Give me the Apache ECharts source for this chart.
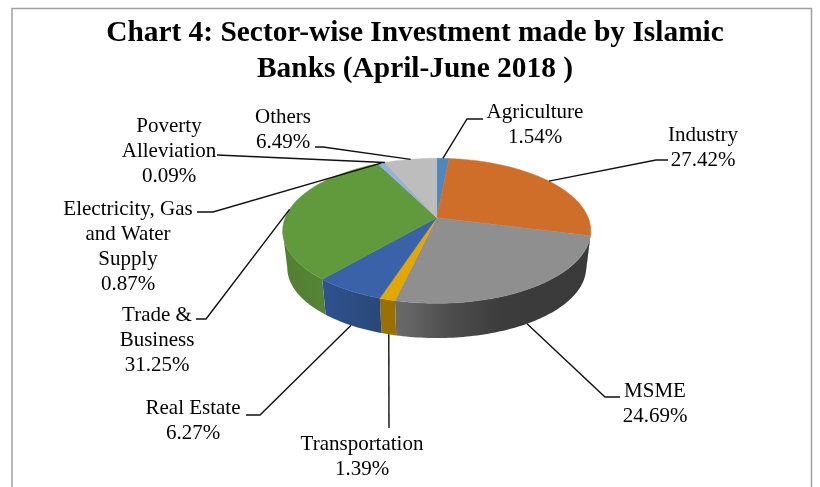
<!DOCTYPE html>
<html>
<head>
<meta charset="utf-8">
<style>
  html, body { margin: 0; padding: 0; background: #fff; }
  #chart { width: 820px; height: 487px; }
</style>
<script src="https://cdn.jsdelivr.net/npm/echarts@6/dist/echarts.min.js"></script>
</head>
<body>
<div id="chart"></div>
<script>
const categories = ['Agriculture', 'Industry', 'MSME', 'Transportation', 'Real Estate', 'Trade & Business',
  'Electricity, Gas and Water Supply', 'Poverty Alleviation', 'Others']
const shares = [1.54, 27.42, 24.69, 1.39, 6.27, 31.25, 0.87, 0.09, 6.49]

// label text is wrapped by hand like the original
const labelLines = [
  ['Agriculture'], ['Industry'], ['MSME'], ['Transportation'], ['Real Estate'], ['Trade &', 'Business'],
  ['Electricity, Gas', 'and Water', 'Supply'], ['Poverty', 'Alleviation'], ['Others'],
]

const topColors = ['#4f88bd', '#cf6e29', '#8f8f8f', '#e2a800', '#3a62a9', '#619a3d', '#93b3dd', '#c9a8a0', '#bdbdbd']
const wallColors = [
  [[0, '#3a6488'], [1, '#3a6488']],
  [[0, '#8f4c1c'], [1, '#8f4c1c']],
  [[0, '#6c6c6c'], [0.3, '#4c4c4c'], [0.55, '#3c3c3c'], [1, '#3a3a3a']],
  [[0, '#9a7000'], [1, '#9a7000']],
  [[0, '#2f5290'], [1, '#2a4778']],
  [[0, '#527f30'], [1, '#568436']],
  [[0, '#6f89a8'], [1, '#6f89a8']],
  [[0, '#998078'], [1, '#998078']],
  [[0, '#8c8c8c'], [1, '#8c8c8c']],
]

// pie geometry: perspective view of a circle, apex off the ellipse centre
const apexX = 436.7, apexY = 217.7
const radiusX = 151.5, radiusY = 70.13, tilt = -0.1807
const floorY = 255, floorScale = 0.97

// label centre x, first line top y, then the leader's knots from label to slice
const labelPos = [
  [535, 100], [703, 123], [655, 379], [362, 432], [193, 396], [157, 303], [128, 197], [169, 114], [283, 105],
]
const leaderKnots = [
  [[483, 119], [467, 119]],
  [[668, 160], [656, 160]],
  [[620, 397], [605, 397]],
  [[389, 428]],
  [[246, 415], [260, 415]],
  [[196, 319], [206, 319]],
  [[197, 212], [213, 212]],
  [[217, 155]],
  [[315, 147], [323, 147]],
]

const total = shares.reduce((a, b) => a + b, 0)
const starts = []
shares.reduce((sum, v, i) => { starts[i] = sum; return sum + v }, 0)

function rim(t, floor) {
  const u = Math.sin(t), v = -Math.cos(t)
  const d = 1 + tilt * v
  const x = radiusX * u / d, y = radiusY * v / d
  return floor ? [apexX + x * floorScale, floorY + y * floorScale] : [apexX + x, apexY + y]
}

function sliceAngles(i) {
  const a = starts[i] / total * Math.PI * 2
  return [a, a + shares[i] / total * Math.PI * 2]
}

function arc(a, b, floor) {
  const n = Math.max(2, Math.ceil((b - a) / 0.02))
  const pts = []
  for (let k = 0; k <= n; k++) pts.push(rim(a + (b - a) * k / n, floor))
  return pts
}

// the rim only shows a wall between these two angles
const wallFrom = 100.4 * Math.PI / 180, wallTo = 259.6 * Math.PI / 180

function renderWall(params, api) {
  const i = api.value(0)
  const [a0, b0] = sliceAngles(i)
  const a = Math.max(a0, wallFrom), b = Math.min(b0, wallTo)
  if (b <= a) return null
  const points = arc(a, b, false).concat(arc(a, b, true).reverse())
  return {
    type: 'polygon',
    shape: { points },
    style: {
      fill: new echarts.graphic.LinearGradient(0, 0, 1, 0,
        wallColors[i].map(([offset, color]) => ({ offset, color }))),
    },
  }
}

function renderTop(params, api) {
  const i = api.value(0)
  const [a, b] = sliceAngles(i)
  const points = [[apexX, apexY]].concat(arc(a, b, false))
  return {
    type: 'polygon',
    shape: { points },
    style: { fill: topColors[i], stroke: topColors[i], lineWidth: 0.5 },
  }
}

function renderLabel(params, api) {
  const i = api.value(0)
  const [a, b] = sliceAngles(i)
  const mid = (a + b) / 2
  // slices on the front hang their leader from the bottom of the wall
  const front = mid > wallFrom && mid < wallTo
  const lines = labelLines[i].concat(shares[i].toFixed(2) + '%')
  const [lx, ly] = labelPos[i]
  return {
    type: 'group',
    children: [
      {
        type: 'polyline',
        shape: { points: leaderKnots[i].concat([rim(mid, front)]) },
        style: { stroke: '#111', fill: null, lineWidth: 1.4 },
      },
      {
        type: 'text',
        x: lx,
        y: ly,
        style: {
          text: lines.join('\n'),
          font: '21px "Liberation Serif", serif',
          lineHeight: 25,
          fill: '#000',
          align: 'center',
          verticalAlign: 'top',
        },
      },
    ],
  }
}

const rows = categories.map((name, i) => ({ name, value: [i, shares[i]] }))

const chart = echarts.init(document.getElementById('chart'))
chart.setOption({
  animation: false,
  title: {
    text: 'Chart 4: Sector-wise Investment made by Islamic\nBanks (April-June 2018 )',
    left: 410,
    top: 10,
    textAlign: 'center',
    textStyle: { fontFamily: '"Liberation Serif", serif', fontSize: 29.4, fontWeight: 'bold', color: '#000', lineHeight: 36 },
  },
  graphic: [
    {
      type: 'polyline',
      shape: { points: [[12, 487], [12, 8.5], [811.5, 8.5], [811.5, 487]] },
      style: { stroke: '#a0a0a0', fill: null, lineWidth: 1.5 },
      silent: true,
    },
  ],
  series: [
    { type: 'custom', coordinateSystem: 'none', renderItem: renderWall, data: rows, z: 2, silent: true },
    { type: 'custom', coordinateSystem: 'none', renderItem: renderTop, data: rows, z: 3, silent: true },
    { type: 'custom', coordinateSystem: 'none', renderItem: renderLabel, data: rows, z: 4, silent: true },
  ],
})
</script>
</body>
</html>
